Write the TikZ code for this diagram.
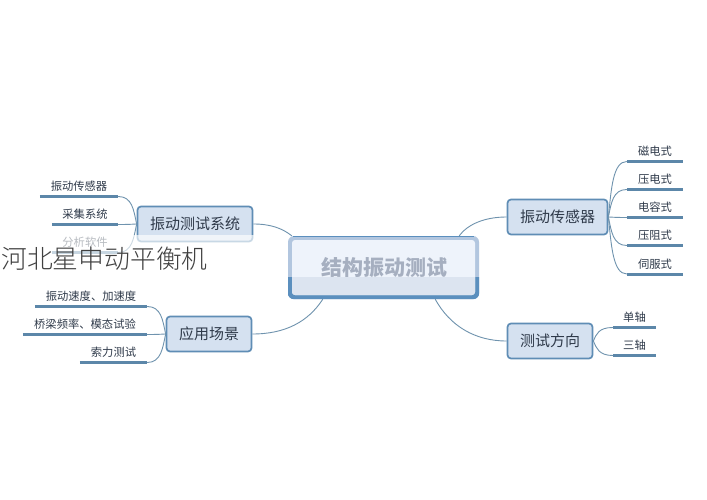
\documentclass[tikz,border=0pt]{standalone}
\usepackage{fontspec}
\setmainfont{Noto Sans CJK SC}
\newfontfamily\overlayfont{Noto Sans CJK SC Light}
\usetikzlibrary{calc}
\definecolor{boxfill}{HTML}{D5E1F0}
\definecolor{boxline}{HTML}{5F8DB5}
\definecolor{txt}{HTML}{2F3A4A}
\definecolor{wire}{HTML}{6F93AE}
\definecolor{leafbar}{HTML}{5C87A9}
\definecolor{rimlight}{HTML}{B2C6DF}
\definecolor{rimdark}{HTML}{5B8FBE}
\definecolor{coreup}{HTML}{EEF3FB}
\definecolor{corelow}{HTML}{DCE4F0}
\definecolor{coretxt}{HTML}{A6AFC0}
\tikzset{
  x=1pt,y=-1pt,
  topic/.style={draw=boxline,fill=boxfill,line width=1.7pt,rounded corners=3.5pt,inner sep=0pt,
    text=txt,font=\fontsize{15}{18}\selectfont,minimum height=35pt},
  leaf/.style={inner sep=0pt,text=txt,font=\fontsize{11.3}{14}\selectfont,minimum height=20pt},
  bar/.style={draw=leafbar,line width=3pt},
  wirel/.style={wire,line width=.9pt},
  core/.style={inner sep=0pt,minimum width=191pt,minimum height=63pt,rounded corners=6pt},
}
\begin{document}
\begin{tikzpicture}
\useasboundingbox (0,0) rectangle (707,500);
\fill[white] (0,0) rectangle (707,500);
% central topic
\node[core,fill=rimlight] (c) at (383.5,267.5) {};
\begin{scope}
\clip (288,277) rectangle (479,299);
\fill[rimdark,rounded corners=6pt] (c.north west) rectangle (c.south east);
\end{scope}
\draw[rimdark,line width=1.4pt] ($(c.north west)+(5,.7)$) -- ($(c.north east)+(-5,.7)$);
\fill[coreup,rounded corners=3pt] (292,240) rectangle (475,295);
\begin{scope}
\clip (292,277) rectangle (475,295);
\fill[corelow,rounded corners=3pt] (292,240) rectangle (475,295);
\end{scope}
\node[inner sep=0pt,text=coretxt,font=\fontsize{21}{25}\selectfont] (ct) at (384,268) {\textbf{结构振动测试}};
% topics
\node[topic,minimum width=115pt] (a) at (195,224) {振动测试系统};
\node[topic,minimum width=85pt] (b) at (209,334) {应用场景};
\node[topic,minimum width=100pt] (d) at (557.5,217) {振动传感器};
\node[topic,minimum width=85pt] (e) at (550,341) {测试方向};
% leaves
\foreach \n/\xa/\xb/\yy/\t in {
 a1/40/118/196.5/振动传感器, a2/52/118/224.5/采集系统, a3/52/118/252.5/分析软件,
 b1/35/147/306.5/振动速度、加速度, b2/23/147/334.5/桥梁频率、模态试验, b3/80/147/362.5/索力测试,
 d1/627/683/161.5/磁电式, d2/627/683/189.5/压电式, d3/627/683/217.5/电容式, d4/627/683/245.5/压阻式, d5/627/683/274/伺服式,
 e1/613/656/327.5/单轴, e2/613/656/355.5/三轴}{
  \node[leaf,minimum width={\xb-\xa},anchor=south] (\n) at ({(\xa+\xb)/2},\yy) {\t};
  \draw[bar] (\n.south west) -- (\n.south east);
}
% connectors: centre to topics
\coordinate (cA) at ($(c.north west)+(4,0)$);
\coordinate (cD) at ($(c.north east)+(-20,0)$);
\coordinate (cB) at ($(c.south west)+(35,0)$);
\coordinate (cE) at ($(c.south east)+(-44,0)$);
\draw[wirel] (a.east) .. controls (270,224) and (282,228) .. (cA);
\draw[wirel] (cD) .. controls (468,224) and (485,217) .. (d.west);
\draw[wirel] (b.east) .. controls (285,334) and (308,322) .. (cB);
\draw[wirel] (cE) .. controls (450,326) and (475,341) .. (e.west);
% connectors: topics to leaves
\foreach \p/\n/\dy in {a/a1/-14,a/a2/0,a/a3/14,b/b1/-14,b/b2/0,b/b3/14}{
  \draw[wirel] (\p.west) .. controls ($(\p.west)+(-3,\dy)$) and ($(\n.south east)+(14,0)$) .. (\n.south east);
}
\foreach \p/\n/\dy in {d/d1/-28,d/d2/-14,d/d3/0,d/d4/14,d/d5/28,e/e1/-7,e/e2/7}{
  \draw[wirel] (\p.east) .. controls ($(\p.east)+(3,\dy)$) and ($(\n.south west)+(-14,0)$) .. (\n.south west);
}
% faded band and overprinted caption
\fill[white,opacity=.66] (0,235) rectangle (256,274);
\node[inner sep=0pt,anchor=west,text=black!75,font=\overlayfont\fontsize{25.8}{30}\selectfont] (cap) at (1,258.5) {河北星申动平衡机};
\end{tikzpicture}
\end{document}
